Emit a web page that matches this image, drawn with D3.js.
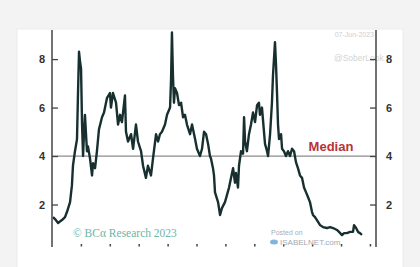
<!DOCTYPE html>
<html><head><meta charset="utf-8">
<script src="https://cdn.jsdelivr.net/npm/d3@7"></script>
<style>html,body{margin:0;padding:0;background:#f3f3f3;}svg{display:block;}</style>
</head><body><div id="chart"></div>
<script>
const years = [2001.07,2001.21,2001.42,2001.55,2001.69,2001.90,2002.04,2002.25,2002.38,2002.45,2002.59,2002.73,2002.80,2002.87,2002.94,2003.01,2003.08,2003.15,2003.21,2003.28,2003.42,2003.49,2003.63,2003.77,2003.84,2003.98,2004.11,2004.25,2004.46,2004.60,2004.67,2004.81,2005.01,2005.08,2005.22,2005.43,2005.57,2005.71,2005.84,2006.05,2006.12,2006.26,2006.47,2006.61,2006.81,2006.95,2007.16,2007.30,2007.50,2007.64,2007.85,2007.99,2008.20,2008.34,2008.47,2008.61,2008.82,2008.96,2009.17,2009.24,2009.30,2009.37,2009.44,2009.51,2009.65,2009.79,2009.93,2010.07,2010.20,2010.34,2010.55,2010.69,2010.90,2011.03,2011.24,2011.38,2011.52,2011.66,2011.80,2011.93,2012.00,2012.14,2012.21,2012.28,2012.49,2012.63,2012.76,2012.97,2013.11,2013.25,2013.39,2013.53,2013.66,2013.73,2013.87,2013.94,2014.08,2014.22,2014.29,2014.36,2014.49,2014.63,2014.77,2014.91,2015.05,2015.19,2015.32,2015.39,2015.53,2015.67,2015.74,2015.88,2015.95,2016.09,2016.22,2016.29,2016.43,2016.50,2016.57,2016.64,2016.71,2016.85,2016.92,2017.05,2017.19,2017.33,2017.47,2017.61,2017.75,2017.88,2018.02,2018.16,2018.30,2018.44,2018.58,2018.72,2018.85,2018.99,2019.06,2019.20,2019.41,2019.55,2019.75,2020.03,2020.24,2020.45,2020.72,2020.86,2021.07,2021.21,2021.41,2021.62,2021.83,2021.90,2022.04,2022.18,2022.31,2022.45];
const values = [1.48,1.40,1.24,1.30,1.36,1.48,1.7,2.1,2.8,3.6,4.2,4.7,6.6,8.3,7.9,7.6,5.3,4.0,4.9,5.7,4.2,4.4,3.9,3.2,3.7,3.5,4.2,5.1,5.6,5.8,6.0,6.4,6.6,6.0,6.6,6.2,5.3,5.7,5.4,6.5,5.0,4.6,4.9,4.3,5.3,4.6,4.2,3.6,3.1,3.6,3.2,3.9,4.9,4.6,4.9,5.0,5.3,5.7,6.0,7.2,9.1,7.3,6.2,6.8,6.6,6.1,6.2,5.6,5.7,5.3,4.9,5.3,4.7,4.3,4.0,4.3,5.0,4.9,4.5,4.0,3.9,3.5,3.2,2.5,2.1,1.57,1.85,2.1,2.4,2.7,3.1,3.5,2.9,3.3,2.7,3.6,4.2,4.1,5.6,4.6,4.2,4.9,5.3,5.8,5.4,6.1,6.2,5.7,6.0,5.0,4.5,4.2,4.0,4.9,6.2,7.3,8.7,7.8,6.6,5.3,4.7,4.9,4.3,4.2,4.0,4.2,4.0,4.3,4.2,3.75,3.5,3.2,3.1,2.7,2.5,2.3,2.1,1.7,1.57,1.48,1.28,1.15,1.07,1.03,1.07,1.03,0.95,0.87,0.74,0.82,0.82,0.87,0.87,1.15,1.03,0.87,0.82,0.75];
const yTicks = [2,4,6,8];
const xTicks = [2003,2005,2007,2009,2011,2013,2015,2017,2019,2021,2023];
const median = 4;
const xDomain = [2001, 2023.42];
const yDomain = [0, 9.2];

const W = 420, H = 267;
const svg = d3.select('#chart').append('svg').attr('width', W).attr('height', H);
svg.append('rect').attr('x',0).attr('y',0).attr('width',W).attr('height',H).attr('fill','#f3f3f3');
svg.append('rect').attr('x',17).attr('y',29).attr('width',386).attr('height',250).attr('fill','#ffffff').attr('stroke','#ebebeb');

const L = 52, R = 376, T = 30, B = 247;
const x = d3.scaleLinear().domain(xDomain).range([L, R]);
const y = d3.scaleLinear().domain(yDomain).range([253, 30]);

// watermark texts
svg.append('text').attr('x',374).attr('y',37).attr('text-anchor','end').attr('font-family','Liberation Sans, Arial, sans-serif').attr('font-size',7).attr('fill','#cfcfcf').text('07-Jun-2023');
svg.append('text').attr('x',334).attr('y',61).attr('font-family','Liberation Sans, Arial, sans-serif').attr('font-size',8.5).attr('fill','#d3d3d3').text('@SoberLook');

// median line
svg.append('line').attr('x1',L).attr('x2',R).attr('y1',y(median)).attr('y2',y(median)).attr('stroke','#8c8c8c').attr('stroke-width',1.2);
svg.append('text').attr('x',331).attr('y',151).attr('text-anchor','middle').attr('font-family','Liberation Sans, Arial, sans-serif').attr('font-weight','bold').attr('font-size',13).attr('fill','#b8323a').text('Median');

// series
const data = years.map((d,i)=>({t:d, v:values[i]}));
svg.append('path').datum(data).attr('fill','none').attr('stroke','#17302f').attr('stroke-width',2.4).attr('stroke-linejoin','round')
  .attr('d', d3.line().x(d=>x(d.t)).y(d=>y(d.v)));

// axes
const la = d3.axisLeft(y).tickValues(yTicks).tickSize(-6).tickPadding(7).tickFormat(d3.format('d'));
const lg = svg.append('g').attr('transform',`translate(${L},0)`).call(la);
const ra = d3.axisRight(y).tickValues(yTicks).tickSize(-6).tickPadding(10).tickFormat(d3.format('d'));
const rg = svg.append('g').attr('transform',`translate(${R},0)`).call(ra);
[lg, rg].forEach(g=>{
  g.select('.domain').remove();
  g.selectAll('line').attr('stroke','#444').attr('stroke-width',1.3);
  g.selectAll('text').attr('font-family','Liberation Sans, Arial, sans-serif').attr('font-weight','bold').attr('font-size',11).attr('fill','#333');
});
svg.append('line').attr('x1',L).attr('x2',L).attr('y1',T).attr('y2',B).attr('stroke','#444').attr('stroke-width',1.5);
svg.append('line').attr('x1',R).attr('x2',R).attr('y1',T).attr('y2',B).attr('stroke','#444').attr('stroke-width',1.5);
const ba = d3.axisBottom(x).tickValues(xTicks).tickSize(2.5).tickFormat('');
const bg = svg.append('g').attr('transform',`translate(0,${B-3})`).call(ba);
bg.select('.domain').remove();
bg.selectAll('line').attr('stroke','#444').attr('stroke-width',1.5);

// credits
svg.append('text').attr('x',73).attr('y',237).attr('font-family','Liberation Serif, Times New Roman, serif').attr('font-size',11.5).attr('fill','#6db5a5').text('© BCα Research 2023');
svg.append('text').attr('x',271).attr('y',235).attr('font-family','Liberation Sans, Arial, sans-serif').attr('font-size',7).attr('fill','#a9aeb5').text('Posted on');
svg.append('ellipse').attr('cx',274).attr('cy',242).attr('rx',4).attr('ry',2.5).attr('fill','#7fb6de');
svg.append('text').attr('x',280).attr('y',245).attr('font-family','Liberation Sans, Arial, sans-serif').attr('font-size',8).attr('fill','#a2a9b2').text('ISABELNET.com');
</script></body></html>
